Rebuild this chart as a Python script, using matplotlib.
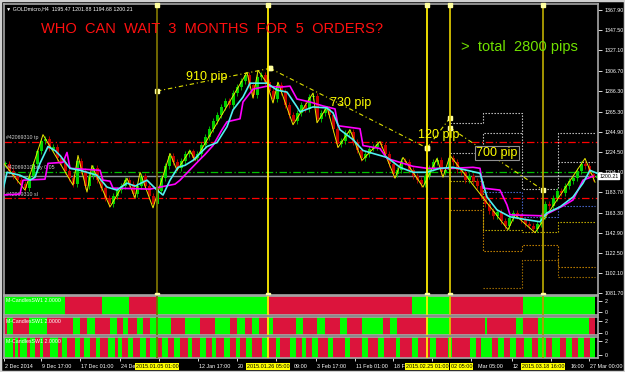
import matplotlib
matplotlib.use("Agg")
import matplotlib.pyplot as plt
from matplotlib.transforms import blended_transform_factory
import numpy as np

plt.rcParams['font.family'] = ['Liberation Sans', 'DejaVu Sans']

# ---- data (x = bar position, y = price) ----
PRICE_TICKS = [1367.90, 1347.50, 1327.10, 1306.70, 1286.30, 1265.30, 1244.90, 1224.50,
               1204.10, 1183.70, 1163.30, 1142.90, 1122.50, 1102.10, 1081.70]
LAST_PRICE = 1200.21
TP_LEVEL, BUY_LEVEL, SL_LEVEL = 1235.0, 1204.5, 1178.0

# H4 candle closes, one every 4 bars starting at bar 5
CLOSE = [1212, 1205, 1200, 1196, 1192, 1188, 1200, 1212, 1225, 1236, 1238, 1228, 1230, 1218,
         1214, 1205, 1198, 1192, 1215, 1205, 1190, 1200, 1208, 1196, 1188, 1178, 1172, 1180,
         1186, 1190, 1196, 1192, 1182, 1190, 1200, 1190, 1180, 1172, 1185, 1198, 1210, 1220,
         1214, 1208, 1215, 1222, 1225, 1218, 1222, 1232, 1240, 1248, 1256, 1262, 1270, 1276,
         1272, 1284, 1290, 1296, 1302, 1292, 1282, 1300, 1302, 1295, 1286, 1278, 1292, 1285,
         1272, 1262, 1256, 1264, 1272, 1268, 1280, 1281, 1258, 1264, 1268, 1262, 1248, 1233,
         1236, 1244, 1245, 1235, 1226, 1218, 1222, 1228, 1230, 1233, 1232, 1222, 1212, 1202,
         1206, 1215, 1214, 1206, 1200, 1196, 1192, 1200, 1208, 1214, 1216, 1204, 1206, 1218,
         1214, 1206, 1204, 1196, 1200, 1195, 1190, 1180, 1172, 1165, 1160, 1164, 1155, 1150,
         1158, 1163, 1160, 1156, 1152, 1150, 1147, 1152, 1160, 1172, 1170, 1178, 1185, 1183,
         1190, 1195, 1198, 1205, 1212, 1210, 1202, 1198, 1200]

ZZ_X = [3, 25, 43, 73, 78, 87, 92, 110, 127, 135, 140, 153, 170, 177, 190, 195, 247, 253, 258,
        267, 273, 278, 293, 313, 317, 327, 338, 350, 362, 380, 395, 403, 423, 437, 443, 450,
        508, 515, 535, 585, 595]
ZZ_P = [1214, 1186, 1242, 1191, 1221, 1184, 1211, 1169, 1198, 1178, 1204, 1168, 1223, 1206,
        1226, 1216, 1305, 1279, 1307, 1294, 1274, 1295, 1252, 1284, 1254, 1270, 1229, 1247,
        1216, 1235, 1198, 1219, 1189, 1218, 1199, 1221, 1146, 1161, 1143, 1218, 1194]

FAST_X = [3, 7, 20, 30, 35, 40, 48, 55, 60, 70, 80, 97, 107, 117, 127, 135, 147, 157, 163, 170,
          178, 185, 193, 200, 207, 217, 227, 233, 243, 250, 260, 267, 277, 287, 297, 300, 313,
          327, 333, 340, 353, 363, 373, 387, 400, 413, 427, 440, 453, 467, 480, 487, 497, 510,
          527, 540, 547, 560, 573, 583, 590, 597]
FAST_P = [1186, 1204, 1201, 1196, 1199, 1213, 1230, 1226, 1221, 1208, 1206, 1201, 1189, 1186,
          1193, 1190, 1196, 1186, 1181, 1196, 1209, 1211, 1216, 1223, 1230, 1234, 1250, 1267,
          1280, 1294, 1294, 1294, 1287, 1285, 1270, 1265, 1270, 1269, 1264, 1247, 1237, 1226,
          1223, 1219, 1209, 1204, 1204, 1208, 1209, 1206, 1203, 1179, 1166, 1159, 1156, 1154,
          1163, 1169, 1179, 1193, 1206, 1203]

SLOW_X = [3, 20, 23, 45, 48, 63, 67, 70, 100, 103, 110, 113, 150, 165, 175, 180, 200, 205, 213,
          222, 227, 240, 243, 253, 267, 280, 290, 297, 310, 323, 335, 338, 360, 363, 380, 387,
          413, 427, 453, 473, 480, 483, 500, 507, 510, 543, 553, 563, 573, 583, 593]
SLOW_P = [1181, 1182, 1196, 1197, 1213, 1214, 1224, 1208, 1206, 1196, 1195, 1188, 1187, 1190,
          1192, 1196, 1217, 1222, 1231, 1247, 1255, 1258, 1275, 1288, 1291, 1290, 1291, 1278,
          1275, 1271, 1268, 1251, 1248, 1231, 1228, 1218, 1210, 1208, 1208, 1209, 1208, 1188,
          1186, 1171, 1161, 1160, 1165, 1170, 1176, 1196, 1200]

# pip trend lines (start bar, start price, end bar, end price)
TREND_X0 = [157, 270, 427, 450]
TREND_P0 = [1286, 1309, 1228.5, 1249]
TREND_X1 = [270, 427, 450, 543]
TREND_P1 = [1309, 1228.5, 1259, 1186]

# vertical time markers and their highlighted date tags (the 03.02 tag is half covered)
VLINE_X = [157, 268, 427, 450, 543]
DATE_TAG_X = [157, 268, 427, 543]
DATE_TAGS = ["2015.01.05 01:00", "2015.01.26 05:00", "2015.02.25 01:00", "2015.03.18 16:00"]
PART_TAG_X, PART_TAG = 450, "02 05:00"

# stepped level indicator: period edges and levels per period
LEVEL_EDGES = [450, 483, 522, 558, 595]
LEVEL_W1 = [1254.1, 1264.2, 1187.1, 1243.7]
LEVEL_W2 = [1223.7, 1243.7, np.nan, 1214.7]
LEVEL_B1 = [np.nan, 1184.4, 1159.1, 1169.9]
LEVEL_Y1 = [1195.2, 1145.7, 1143.9, 1154.0]
LEVEL_O1 = [1165.9, 1124.7, 1130.5, 1108.6]
LEVEL_O2 = [np.nan, 1086.8, 1115.4, 1098.2]

# M-CandlesSW1 colour blocks (alternating segment edges)
SW1_EDGES = [3, 65, 102, 129, 157, 267, 412, 450, 523, 595]            # starts green
SW2_EDGES = [3, 7, 13, 29, 47, 73, 80, 87, 95, 110, 117, 123, 128, 137, 143, 150, 171, 185,
             200, 215, 230, 237, 245, 252, 259, 267, 273, 296, 303, 317, 325, 340, 347, 362,
             383, 390, 397, 427, 450, 485, 487, 516, 523, 538, 589, 595]   # starts red
SW3_EDGES = [3, 13, 15, 18, 20, 27, 30, 35, 40, 43, 50, 58, 62, 67, 75, 80, 84, 90, 96, 100,
             108, 115, 118, 122, 128, 133, 140, 146, 150, 158, 162, 168, 174, 180, 188, 192,
             200, 206, 212, 216, 224, 230, 236, 240, 246, 252, 262, 268, 276, 280, 290, 296,
             302, 306, 312, 318, 328, 333, 345, 350, 362, 368, 378, 384, 396, 400, 412, 418,
             430, 436, 448, 452, 470, 476, 481, 492, 498, 504, 510, 516, 524, 532, 538, 546,
             552, 560, 566, 572, 578, 584, 590, 595]                        # starts green

TICK_X = [4, 41, 80, 120, 159, 198, 237, 276, 316, 355, 393, 432, 471, 512, 551, 589]
# the parts of the time labels left visible beside the date tags
TIME_X = [4, 41, 80, 120, 198, 237, 293, 316, 355, 393, 477, 512, 570, 589]
TIME_LABELS = ["2 Dec 2014", "9 Dec 17:00", "17 Dec 01:00", "24 De", "12 Jan 17:00", "20",
               "09:00", "3 Feb 17:00", "11 Feb 01:00", "18 F", "Mar 05:00", "12", "16:00",
               "27 Mar 00:00"]

# ---- figure ----
W, H = 625, 372
BG = 'black'
FRAME = '#a8a8a8'
GREEN, RED = '#00ff00', '#dc143c'
VCOL = ['#7a7000', '#ffee00', '#ffee00', '#d8c400', '#b0a000']
XLIM = (4, 598)
SMALL = 3.8


def rect(x0, y0, x1, y1):
    return [x0 / W, 1 - y1 / H, (x1 - x0) / W, (y1 - y0) / H]


fig = plt.figure(figsize=(6.25, 3.72), dpi=100, facecolor=BG)
ax = fig.add_axes(rect(4, 4, 598, 295))
panels = [fig.add_axes(rect(4, 296, 598, 315)),
          fig.add_axes(rect(4, 317, 598, 335)),
          fig.add_axes(rect(4, 337, 598, 358))]
panel_ylim = [(-0.55, 2.9), (-0.33, 2.67), (-0.43, 2.57)]

for a in [ax] + panels:
    a.set_facecolor(BG)
    a.set_xlim(*XLIM)
    for s in a.spines.values():
        s.set_color(FRAME)
        s.set_linewidth(1.2)
    a.tick_params(axis='x', bottom=False, labelbottom=False)
    a.yaxis.tick_right()
    a.tick_params(axis='y', colors='white', labelsize=SMALL, length=3, width=0.6, pad=2,
                  left=False)

ax.set_ylim(1080, 1374)
ax.set_yticks(PRICE_TICKS)
ax.set_yticklabels([f"{v:.2f}" for v in PRICE_TICKS])

# candles
cl = np.array(CLOSE, dtype=float)
op = np.r_[cl[0], cl[:-1]]
xc = 5 + 4 * np.arange(len(cl))
ccol = np.where(cl >= op, '#00d000', '#c00000')
ax.vlines(xc, np.minimum(op, cl) - 3, np.maximum(op, cl) + 3, colors=ccol, lw=0.6, zorder=2)
ax.bar(xc, cl - op + np.where(cl == op, 1, 0), bottom=op, width=3.0, color=ccol, lw=0, zorder=2)

# order levels
ax.axhline(TP_LEVEL, color='#ff0000', lw=0.9, ls=(0, (6, 2, 1, 2)), zorder=1)
ax.axhline(SL_LEVEL, color='#ff0000', lw=0.9, ls=(0, (6, 2, 1, 2)), zorder=1)
ax.axhline(BUY_LEVEL, color='#00c000', lw=0.9, ls=(0, (6, 2, 1, 2)), zorder=1)
ax.axhline(LAST_PRICE, color='#8a9098', lw=1.0, zorder=1)
for lvl, name in [(TP_LEVEL, "#42069310 tp"), (BUY_LEVEL, "#42069310 buy 0.05"),
                  (SL_LEVEL, "#42069310 sl")]:
    ax.text(6, lvl + 1.5, name, color='#d0d0d0', fontsize=SMALL, va='bottom')

# stepped levels
for lv, c in [(LEVEL_W1, '#d8d8d8'), (LEVEL_W2, '#d8d8d8'), (LEVEL_B1, '#5070e0'),
              (LEVEL_Y1, '#d8c000'), (LEVEL_O1, '#d89000'), (LEVEL_O2, '#b07800')]:
    ax.step(LEVEL_EDGES, lv + [lv[-1]], where='post', color=c, lw=0.8, ls=(0, (1.2, 1.5)),
            zorder=1)

# indicators
ax.plot(ZZ_X, ZZ_P, color='#e8e800', lw=0.7, zorder=3)
ax.plot(SLOW_X, SLOW_P, color='#ff00ff', lw=1.2, zorder=4)
ax.plot(FAST_X, FAST_P, color='#50f0f0', lw=1.2, zorder=5)

# pip trend lines
for x0, p0, x1, p1 in zip(TREND_X0, TREND_P0, TREND_X1, TREND_P1):
    ax.plot([x0, x1], [p0, p1], color='#e0e000', lw=0.8, ls=(0, (4, 2.5, 1, 2.5)), zorder=6)
    ax.plot([x0, x1], [p0, p1], ls='none', marker='s', ms=2.2, mfc='#ffffa0', mec='#ffffa0',
            zorder=7)

# vertical lines through all panes
for x, c in zip(VLINE_X, VCOL):
    for a in [ax] + panels:
        a.axvline(x, color=c, lw=1.3, zorder=8)
    ax.plot([x, x], [1372.5, 1080.5], ls='none', marker='s', ms=2.4, mfc='#ffffa0',
            mec='#ffffa0', clip_on=False, zorder=9)

# texts
ax.text(6, 1369, "\u25bc GOLDmicro,H4  1195.47 1201.88 1194.68 1200.21", color='white',
        fontsize=SMALL, va='center')
ax.text(41, 1348.5, "WHO  CAN  WAIT  3  MONTHS  FOR  5  ORDERS?", color='#ff1010',
        fontsize=10.5, va='center', zorder=10)
ax.text(461, 1330.5, ">  total  2800 pips", color='#70e000', fontsize=10.5, va='center',
        zorder=10)
ax.text(186, 1300.5, "910 pip", color='#ffff00', fontsize=9, va='center', zorder=10)
ax.text(330, 1274, "730 pip", color='#ffff00', fontsize=9, va='center', zorder=10)
ax.text(418, 1242, "120 pip", color='#ffff00', fontsize=9, va='center', zorder=10)
ax.text(476, 1223.5, "700 pip", color='#ffff00', fontsize=9, va='center', zorder=10,
        bbox=dict(facecolor='black', edgecolor='#909090', lw=0.8, pad=1.0))

# current price tag
tr = blended_transform_factory(ax.transAxes, ax.transData)
ax.text(1.002, LAST_PRICE, f"{LAST_PRICE:.2f}", transform=tr, color='black', fontsize=SMALL,
        va='center', ha='left', clip_on=False, zorder=12,
        bbox=dict(facecolor='white', edgecolor='white', pad=0.6))

# indicator panes
for a, edges, first, ylim in zip(panels, [SW1_EDGES, SW2_EDGES, SW3_EDGES],
                                 [GREEN, RED, GREEN], panel_ylim):
    a.set_ylim(*ylim)
    e = np.array(edges, dtype=float)
    other = RED if first == GREEN else GREEN
    cols = [first if i % 2 == 0 else other for i in range(len(e) - 1)]
    a.bar(e[:-1], ylim[1] - ylim[0], width=np.diff(e), bottom=ylim[0], align='edge',
          color=cols, lw=0, zorder=1)
    a.set_yticks([0, 2])
    a.set_yticklabels(["0", "2"])
    a.text(6, ylim[1] - 0.3, "M-CandlesSW1 2.0000", color='white', fontsize=SMALL, va='top',
           zorder=10)

# time axis
p3 = panels[2]
p3.set_xticks(TICK_X)
p3.tick_params(axis='x', bottom=True, length=2.5, width=0.6, color='white', labelbottom=False)
trx = blended_transform_factory(p3.transData, p3.transAxes)
for x, lab in zip(TIME_X, TIME_LABELS):
    p3.text(x + 1, -0.4, lab, transform=trx, color='white', fontsize=3.9, va='center',
            ha='left', clip_on=False)
for x, lab in zip(DATE_TAG_X, DATE_TAGS):
    p3.text(x, -0.4, lab, transform=trx, color='black', fontsize=3.9, va='center',
            ha='center', clip_on=False, zorder=12,
            bbox=dict(facecolor='#ffff00', edgecolor='none', pad=0.5))
p3.text(PART_TAG_X + 1, -0.4, PART_TAG, transform=trx, color='black', fontsize=3.9,
        va='center', ha='left', clip_on=False, zorder=11,
        bbox=dict(facecolor='#ffff00', edgecolor='none', pad=0.5))

# window frame
fig.patches.append(plt.Rectangle((0, 0), 1, 1, transform=fig.transFigure, fill=False,
                                 edgecolor='#d0d0d0', lw=2.5))

fig.savefig("out.png", dpi=100, facecolor=BG)
